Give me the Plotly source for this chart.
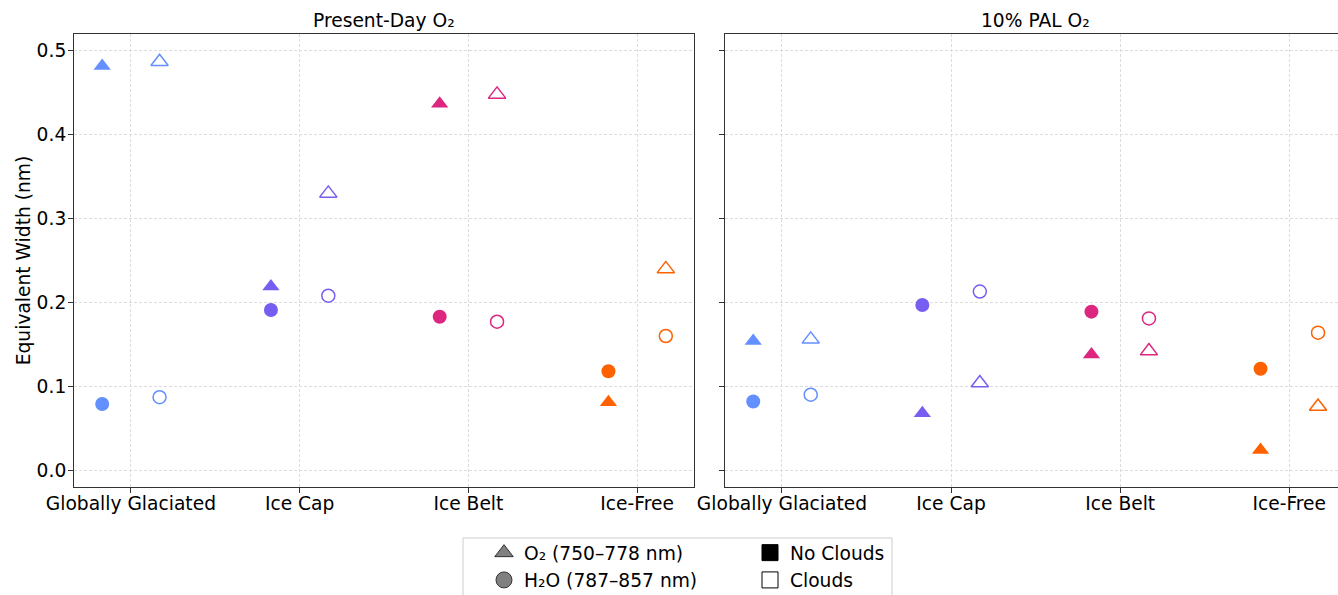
import plotly.graph_objects as go

categories = ["Globally Glaciated", "Ice Cap", "Ice Belt", "Ice-Free"]
colors = ["#648FFF", "#785EF0", "#DC267F", "#FE6100"]

# Present-Day O2 panel
pd_o2_noclouds = [0.482, 0.219, 0.437, 0.081]
pd_o2_clouds = [0.487, 0.330, 0.448, 0.240]
pd_h2o_noclouds = [0.079, 0.191, 0.183, 0.118]
pd_h2o_clouds = [0.087, 0.208, 0.177, 0.160]

# 10% PAL O2 panel
pal_o2_noclouds = [0.154, 0.068, 0.138, 0.024]
pal_o2_clouds = [0.156, 0.104, 0.142, 0.076]
pal_h2o_noclouds = [0.082, 0.197, 0.189, 0.121]
pal_h2o_clouds = [0.090, 0.213, 0.181, 0.164]

panel_titles = ["Present-Day O₂", "10% PAL O₂"]
y_title = "Equivalent Width (nm)"
y_ticks = [0.0, 0.1, 0.2, 0.3, 0.4, 0.5]
legend_species = ["O₂ (750–778 nm)", "H₂O (787–857 nm)"]
legend_clouds = ["No Clouds", "Clouds"]

OFFSET = 0.17
FONT = "DejaVu Sans"
FS = 18.67
GRID = "#dcdcdc"
GRIDDASH = "3px,2px"

fig = go.Figure()

panels = [
    ("x", "y", pd_o2_noclouds, pd_o2_clouds, pd_h2o_noclouds, pd_h2o_clouds),
    ("x2", "y2", pal_o2_noclouds, pal_o2_clouds, pal_h2o_noclouds, pal_h2o_clouds),
]

for xa, ya, o2n, o2c, h2n, h2c in panels:
    for i, cat in enumerate(categories):
        c = colors[i]
        fig.add_trace(go.Scatter(x=[i - OFFSET], y=[o2n[i]], mode="markers", xaxis=xa, yaxis=ya,
                                 marker=dict(symbol="triangle-up", size=15, color=c, line=dict(width=0)),
                                 showlegend=False, hoverinfo="skip"))
        fig.add_trace(go.Scatter(x=[i - OFFSET], y=[h2n[i]], mode="markers", xaxis=xa, yaxis=ya,
                                 marker=dict(symbol="circle", size=14, color=c, line=dict(width=0)),
                                 showlegend=False, hoverinfo="skip"))
        fig.add_trace(go.Scatter(x=[i + OFFSET], y=[o2c[i]], mode="markers", xaxis=xa, yaxis=ya,
                                 marker=dict(symbol="triangle-up-open", size=15, color=c, line=dict(width=1.5, color=c)),
                                 showlegend=False, hoverinfo="skip"))
        fig.add_trace(go.Scatter(x=[i + OFFSET], y=[h2c[i]], mode="markers", xaxis=xa, yaxis=ya,
                                 marker=dict(symbol="circle-open", size=13, color=c, line=dict(width=1.5, color=c)),
                                 showlegend=False, hoverinfo="skip"))

# Legend entries
fig.add_trace(go.Scatter(x=[None], y=[None], mode="markers", name=legend_species[0], legend="legend",
                         marker=dict(symbol="triangle-up", size=16, color="#808080", line=dict(width=1, color="#333"))))
fig.add_trace(go.Scatter(x=[None], y=[None], mode="markers", name=legend_species[1], legend="legend",
                         marker=dict(symbol="circle", size=16, color="#808080", line=dict(width=1, color="#333"))))
fig.add_trace(go.Scatter(x=[None], y=[None], mode="markers", name=legend_clouds[0], legend="legend2",
                         marker=dict(symbol="square", size=16, color="black", line=dict(width=1, color="black"))))
fig.add_trace(go.Scatter(x=[None], y=[None], mode="markers", name=legend_clouds[1], legend="legend2",
                         marker=dict(symbol="square", size=16, color="white", line=dict(width=1, color="black"))))

W, H = 1338, 595
ML, MR, MT, MB = 74, 0, 34, 108
PW = W - ML - MR
PH = H - MT - MB

def px_x(p):
    return (p - ML) / PW

def px_y(p):
    return (H - MB - p) / PH

xrange_full = [-0.337, 3.337]
xrange_right = [-0.337, -0.337 + (W - 725) / 169.1]

axis_common = dict(
    tickvals=list(range(len(categories))), ticktext=categories,
    showgrid=True, gridcolor=GRID, griddash=GRIDDASH, gridwidth=1,
    showline=True, linecolor="#333", linewidth=1,
    ticks="outside", ticklen=5, tickcolor="#333", tickwidth=1,
    tickfont=dict(family=FONT, size=FS, color="black"),
    ticklabelstandoff=-5,
    zeroline=False,
)

fig.update_layout(
    width=W, height=H,
    margin=dict(l=ML, r=MR, t=MT, b=MB, autoexpand=False),
    paper_bgcolor="white", plot_bgcolor="white",
    font=dict(family=FONT, size=FS, color="black"),
    xaxis=dict(domain=[0, px_x(694)], range=xrange_full, mirror=True, anchor="y", **axis_common),
    xaxis2=dict(domain=[px_x(725), 1.0], range=xrange_right, mirror=True, anchor="y2", **axis_common),
    yaxis=dict(domain=[0, 1], range=[-0.02, 0.52], tickvals=y_ticks, tickformat=".1f",
               showgrid=True, gridcolor=GRID, griddash=GRIDDASH, gridwidth=1,
               showline=True, linecolor="#333", linewidth=1, mirror=True,
               ticks="outside", ticklen=5, tickcolor="#333", ticklabelstandoff=-2,
               tickfont=dict(family=FONT, size=FS, color="black"), zeroline=False,
               title=dict(text=y_title, font=dict(family=FONT, size=FS), standoff=1), anchor="x"),
    yaxis2=dict(domain=[0, 1], range=[-0.02, 0.52], tickvals=y_ticks, matches="y",
                showticklabels=False,
                showgrid=True, gridcolor=GRID, griddash=GRIDDASH, gridwidth=1,
                showline=True, linecolor="#333", linewidth=1, mirror=False,
                ticks="outside", ticklen=5, tickcolor="#333", zeroline=False, anchor="x2"),
    legend=dict(x=px_x(484), y=px_y(534), xanchor="left", yanchor="top",
                bgcolor="rgba(0,0,0,0)", borderwidth=0, tracegroupgap=0,
                font=dict(family=FONT, size=FS, color="black"), itemsizing="trace"),
    legend2=dict(x=px_x(750), y=px_y(534), xanchor="left", yanchor="top",
                 bgcolor="rgba(0,0,0,0)", borderwidth=0, tracegroupgap=0,
                 font=dict(family=FONT, size=FS, color="black"), itemsizing="trace"),
    shapes=[dict(type="rect", xref="paper", yref="paper",
                 x0=px_x(463), x1=px_x(892), y0=px_y(605), y1=px_y(538),
                 line=dict(color="#cccccc", width=1), fillcolor="rgba(0,0,0,0)")],
    annotations=[
        dict(text=panel_titles[0], x=(px_x(74) + px_x(694)) / 2, y=1, xref="paper", yref="paper",
             xanchor="center", yanchor="bottom", yshift=1, showarrow=False,
             font=dict(family=FONT, size=FS, color="black")),
        dict(text=panel_titles[1], x=(px_x(725) + px_x(1345)) / 2, y=1, xref="paper", yref="paper",
             xanchor="center", yanchor="bottom", yshift=1, showarrow=False,
             font=dict(family=FONT, size=FS, color="black")),
    ],
)

fig.write_html("out.html")
